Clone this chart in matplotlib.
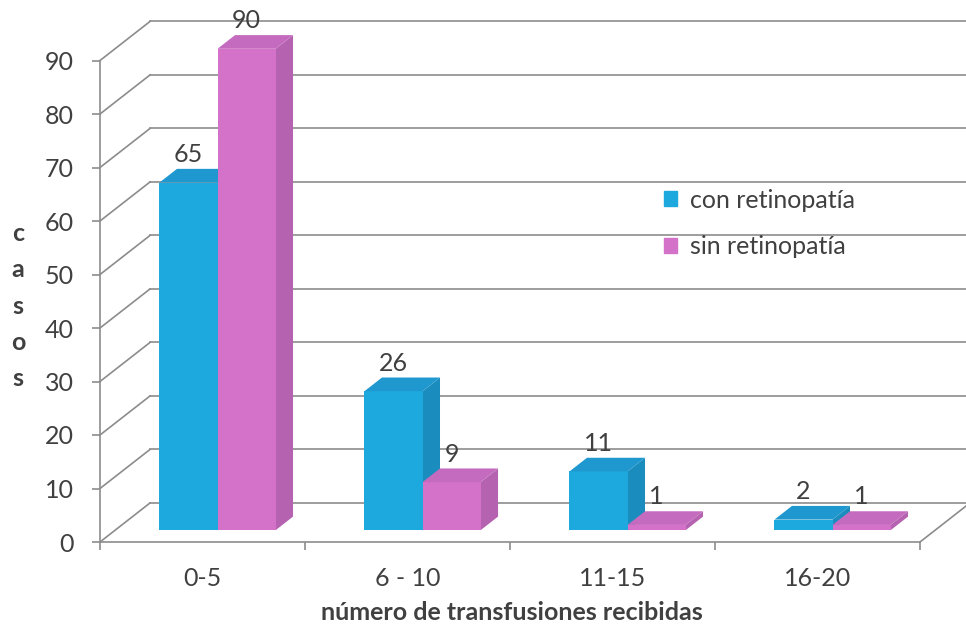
import matplotlib
matplotlib.use("Agg")
import matplotlib.pyplot as plt
import matplotlib.patches as mpatches
from matplotlib.patches import Polygon
import numpy as np

plt.rcParams["font.family"] = ["Lato", "DejaVu Sans"]

CATEGORIES = ["0-5", "6 - 10", "11-15", "16-20"]
CON_RETINOPATIA = [65, 26, 11, 2]
SIN_RETINOPATIA = [90, 9, 1, 1]
SERIES = ["con retinopatía", "sin retinopatía"]
Y_TICKS = [0, 10, 20, 30, 40, 50, 60, 70, 80, 90]

# face colours: front, top, side
FACES = [
    ("#1EA9DE", "#1F97CF", "#1A8DBE"),
    ("#D471C9", "#C46BBF", "#B563B0"),
]
GRID = "#8c8c8c"
TEXT = "#404040"
FS = 18

# oblique depth of the floor (category units, value units)
DX, DY = 0.244, 7.3
F_FRONT, F_BACK = 0.30, 0.65
BAR_W = 0.283

fig = plt.figure(figsize=(9.66, 6.32), dpi=100)
ax = fig.add_axes([100 / 966, 90 / 632, 866 / 966, 542 / 632])
ax.set_xlim(-0.5, -0.5 + 866 / 205)
ax.set_ylim(0, 542 / 5.35)

# walls: back gridlines and left wall diagonals
x_left, x_right = -0.5, len(CATEGORIES) - 0.5
for v in Y_TICKS:
    ax.plot([x_left + DX, x_right + DX], [v + DY, v + DY], color=GRID,
            lw=1.2, clip_on=False, zorder=1)
    ax.plot([x_left, x_left + DX], [v, v + DY], color=GRID, lw=1.2,
            clip_on=False, zorder=1)
ax.plot([x_right, x_right + DX], [0, DY], color=GRID, lw=1.2,
        clip_on=False, zorder=1)

# 3D-style bars
series_vals = [CON_RETINOPATIA, SIN_RETINOPATIA]
ox1, oy1 = F_FRONT * DX, F_FRONT * DY
ox2, oy2 = F_BACK * DX, F_BACK * DY
xs = np.arange(len(CATEGORIES))
for j, vals in enumerate(series_vals):
    front, top, side = FACES[j]
    x0 = xs - BAR_W + j * BAR_W + ox1
    ax.bar(x0, vals, width=BAR_W, bottom=oy1, align="edge", color=front,
           linewidth=0, zorder=3 + 2 * j)
    for xi, v in zip(x0, vals):
        xr = xi + BAR_W
        ax.add_patch(Polygon([(xi, v + oy1), (xr, v + oy1),
                              (xr + ox2 - ox1, v + oy2),
                              (xi + ox2 - ox1, v + oy2)],
                             closed=True, color=top, lw=0, zorder=3 + 2 * j))
        ax.add_patch(Polygon([(xr, oy1), (xr + ox2 - ox1, oy2),
                              (xr + ox2 - ox1, v + oy2), (xr, v + oy1)],
                             closed=True, color=side, lw=0, zorder=2 + 2 * j))
        ax.annotate(f"{v}", (xi + BAR_W / 2, v + oy2), xytext=(0, 2),
                    textcoords="offset points", ha="center", va="bottom",
                    fontsize=FS, color=TEXT, zorder=10)

# axes
for sp in ("top", "right"):
    ax.spines[sp].set_visible(False)
ax.spines["left"].set_bounds(0, 90)
ax.spines["bottom"].set_bounds(x_left, x_right)
for sp in ("left", "bottom"):
    ax.spines[sp].set_color(GRID)
    ax.spines[sp].set_linewidth(1.2)
ax.set_yticks(Y_TICKS)
ax.tick_params(axis="y", length=6, width=1.2, color=GRID, pad=13,
               labelsize=FS, labelcolor=TEXT)
ax.set_xticks(np.arange(len(CATEGORIES) + 1) - 0.5)
ax.set_xticklabels([])
ax.set_xticks(xs, minor=True)
ax.set_xticklabels(CATEGORIES, minor=True)
ax.tick_params(axis="x", which="major", length=6, width=1.2, color=GRID)
ax.tick_params(axis="x", which="minor", length=0, pad=18, labelsize=FS,
               labelcolor=TEXT)

fig.text(18 / 966, 1 - 306 / 632, "c\na\ns\no\ns", ha="center", va="center",
         fontsize=FS, fontweight="bold", color=TEXT, linespacing=1.7)
fig.text(512 / 966, 1 - 612 / 632, "número de transfusiones recibidas",
         ha="center", va="center", fontsize=FS, fontweight="bold", color=TEXT)

handles = [mpatches.Patch(color=FACES[j][0], label=SERIES[j]) for j in range(2)]
fig.legend(handles=handles, loc="upper left",
           bbox_to_anchor=(641 / 966, 1 - 166 / 632), frameon=False,
           fontsize=FS, handlelength=0.55, handleheight=0.55,
           handletextpad=0.5, labelspacing=0.95, labelcolor=TEXT)

fig.savefig("out.png", dpi=100, facecolor="white")
